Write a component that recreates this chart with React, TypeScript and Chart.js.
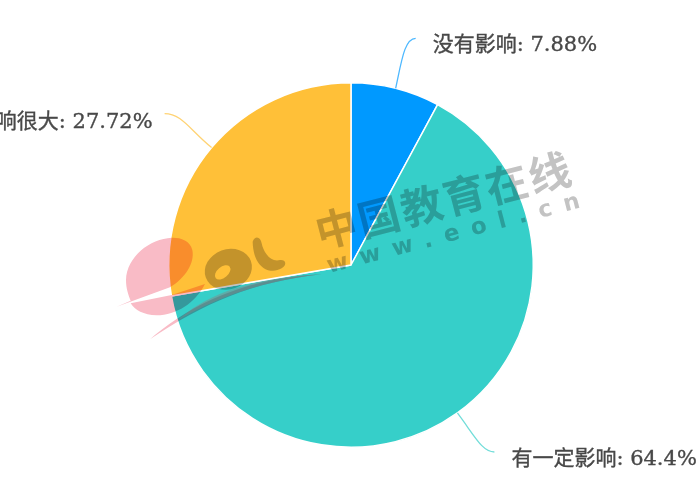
import React, { useEffect, useRef } from "react";
import { Chart, registerables } from "chart.js";

Chart.register(...registerables);

const categories = ["没有影响", "有一定影响", "影响很大"];
const shares = [7.88, 64.4, 27.72];
const shareLabels = ["7.88%", "64.4%", "27.72%"];
const colors = ["#0099FF", "#36CFC9", "#FFC038"];
const leaderColors = ["#4DB8FF", "#72DDD9", "#FFD374"];
const labelFont = '21px "DejaVu Serif", "Noto Sans CJK SC", serif';
const labelColor = "#484848";

// Leader elbows and text offsets relative to each slice's outer mid-point.
const leaders = [
  { c1: [6, -28], c2: [9, -50], end: [20, -50], textDx: 37, textDy: -43, align: "left" },
  { c1: [18, 24], c2: [25, 39], end: [37, 39], textDx: 54, textDy: 47, align: "left" },
  { c1: [-22, -18], c2: [-30, -34], end: [-47, -34], textDx: -59, textDy: -25, align: "right" },
];

const z = (x: number, y: number): [number, number] => [100 + x / 3, 140 + y / 3];

function watermark(ctx: CanvasRenderingContext2D) {
  ctx.save();
  ctx.globalCompositeOperation = "multiply";

  const pink = "rgb(249,187,198)";
  const grey = "rgb(195,195,195)";

  const path = (pts: number[][]) => {
    ctx.beginPath();
    ctx.moveTo(...z(pts[0][0], pts[0][1]));
    for (let i = 1; i < pts.length; i++) {
      const p = pts[i];
      if (p.length === 2) ctx.lineTo(...z(p[0], p[1]));
      else ctx.bezierCurveTo(...z(p[0], p[1]), ...z(p[2], p[3]), ...z(p[4], p[5]));
    }
    ctx.closePath();
  };

  ctx.fillStyle = pink;
  path([
    [50, 500],
    [210, 442],
    [255, 415, 285, 370, 277, 330],
    [270, 300, 240, 292, 215, 293],
    [150, 296, 80, 350, 78, 420],
    [78, 445, 85, 465, 92, 482],
  ]);
  ctx.fill();
  path([
    [92, 490],
    [215, 465],
    [315, 432],
    [285, 490, 230, 525, 170, 526],
    [130, 525, 105, 510, 92, 490],
  ]);
  ctx.fill();

  // swoosh
  path([
    [150, 598],
    [240, 520, 400, 415, 665, 403],
    [460, 425, 310, 490, 150, 598],
  ]);
  ctx.fill();
  ctx.globalCompositeOperation = "source-over";
  ctx.fillStyle = "rgba(140,130,130,0.45)";
  path([
    [235, 540],
    [300, 480, 420, 415, 665, 403],
    [460, 425, 320, 490, 235, 540],
  ]);
  ctx.fill();
  ctx.globalCompositeOperation = "multiply";

  // "o"
  ctx.fillStyle = grey;
  ctx.beginPath();
  const [ox, oy] = z(385, 388);
  ctx.ellipse(ox, oy, 24, 20, -0.35, 0, Math.PI * 2);
  const [hx, hy] = z(368, 397);
  ctx.moveTo(hx + 9, hy);
  ctx.ellipse(hx, hy, 9, 5.5, -0.7, 0, Math.PI * 2);
  ctx.fill("evenodd");

  // "l"
  path([
    [458, 305],
    [465, 285, 482, 290, 485, 310],
    [490, 335, 510, 368, 540, 360],
    [558, 358, 562, 375, 545, 385],
    [510, 405, 460, 385, 458, 305],
  ]);
  ctx.fill();

  // wordmark
  ctx.fillStyle = grey;
  ctx.translate(316, 233);
  ctx.rotate(-0.254);
  ctx.font = 'bold 42px "Noto Sans CJK SC", sans-serif';
  (ctx as any).letterSpacing = "2px";
  ctx.textBaseline = "middle";
  ctx.textAlign = "left";
  ctx.fillText("中国教育在线", 0, 0);
  ctx.restore();

  ctx.save();
  ctx.globalCompositeOperation = "multiply";
  ctx.fillStyle = grey;
  ctx.translate(329, 273);
  ctx.rotate(-0.255);
  ctx.font = 'bold 23px "DejaVu Sans", sans-serif';
  (ctx as any).letterSpacing = "12.4px";
  ctx.textBaseline = "alphabetic";
  ctx.fillText("www.eol.cn", 0, 0);
  ctx.restore();
}

const labelPlugin = {
  id: "sliceLabels",
  afterDatasetsDraw(chart: any) {
    const { ctx } = chart;
    const arcs = chart.getDatasetMeta(0).data;
    arcs.forEach((arc: any, i: number) => {
      const mid = (arc.startAngle + arc.endAngle) / 2;
      const sx = arc.x + Math.cos(mid) * arc.outerRadius;
      const sy = arc.y + Math.sin(mid) * arc.outerRadius;
      const l = leaders[i];
      ctx.save();
      ctx.strokeStyle = leaderColors[i];
      ctx.lineWidth = 1.3;
      ctx.beginPath();
      ctx.moveTo(sx, sy);
      ctx.bezierCurveTo(sx + l.c1[0], sy + l.c1[1], sx + l.c2[0], sy + l.c2[1], sx + l.end[0], sy + l.end[1]);
      ctx.stroke();
      ctx.font = labelFont;
      ctx.fillStyle = labelColor;
      ctx.strokeStyle = labelColor;
      ctx.lineWidth = 0.35;
      ctx.textAlign = l.align;
      ctx.textBaseline = "middle";
      const text = `${categories[i]}: ${shareLabels[i]}`;
      ctx.fillText(text, sx + l.textDx, sy + l.textDy);
      ctx.strokeText(text, sx + l.textDx, sy + l.textDy);
      ctx.restore();
    });
    watermark(ctx);
  },
};

export default function App() {
  const ref = useRef<HTMLCanvasElement>(null);
  useEffect(() => {
    document.body.style.margin = "0";
    const chart = new Chart(ref.current!, {
      type: "pie",
      data: {
        labels: categories,
        datasets: [{ data: shares, backgroundColor: colors, borderColor: "#ffffff", borderWidth: 1.5 }],
      },
      options: {
        responsive: false,
        animation: false,
        layout: { padding: { left: 2, right: 0, top: 82, bottom: 52 } },
        plugins: { legend: { display: false }, tooltip: { enabled: false } },
      },
      plugins: [labelPlugin],
    });
    return () => chart.destroy();
  }, []);
  return (
    <canvas
      ref={ref}
      width={700}
      height={500}
      style={{ display: "block", width: 700, height: 500, filter: "blur(0.6px)" }}
    />
  );
}
